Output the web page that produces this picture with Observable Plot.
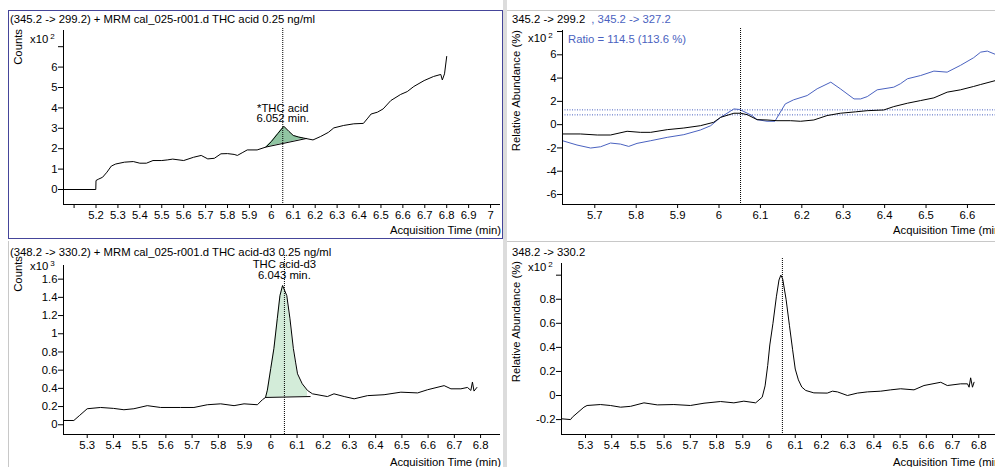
<!DOCTYPE html>
<html><head><meta charset="utf-8">
<script src="https://cdn.jsdelivr.net/npm/d3@7"></script>
<script src="https://cdn.jsdelivr.net/npm/@observablehq/plot@0.6"></script>
<style>
html,body{margin:0;padding:0;background:#fff;}
body{width:995px;height:467px;position:relative;overflow:hidden;font-family:"Liberation Sans",Arial,sans-serif;font-size:11.3px;color:#000;}
.abs{position:absolute;white-space:nowrap;line-height:12px;}
.rot{position:absolute;white-space:nowrap;line-height:12px;transform-origin:0 0;transform:rotate(-90deg) translateX(-100%);}
.ra{transform:translateX(-100%);}
.sup{font-size:8px;position:relative;top:-4px;margin-left:2px;}
.box{position:absolute;box-sizing:border-box;}
.pl{position:absolute;}
</style></head><body>
<script>
// ---------------- data ----------------
// Top-left: (345.2 -> 299.2) quantifier, counts x10^2
const tlTime = [5.052,5.199,5.2,5.21,5.23,5.25,5.27,5.29,5.33,5.37,5.40,5.43,5.46,5.50,5.525,5.55,5.60,5.645,5.68,5.71,5.74,5.77,5.80,5.83,5.845,5.87,5.89,5.935,5.975,6.0,6.03,6.057,6.08,6.10,6.125,6.148,6.19,6.225,6.26,6.285,6.33,6.376,6.42,6.44,6.455,6.484,6.51,6.545,6.59,6.62,6.65,6.697,6.74,6.773,6.78,6.79,6.80];
const tlCounts = [0,0,0.44,0.5,0.6,0.85,1.15,1.25,1.34,1.37,1.29,1.29,1.42,1.42,1.45,1.49,1.42,1.58,1.67,1.5,1.53,1.75,1.76,1.72,1.67,1.82,1.94,1.94,2.08,2.35,2.75,3.1,2.85,2.65,2.57,2.52,2.43,2.6,2.8,3.02,3.14,3.22,3.24,3.5,3.7,3.79,3.95,4.36,4.66,4.8,5.05,5.34,5.54,5.64,5.37,5.67,6.52];
const tlBaseT = [5.975, 6.16];
const tlBaseV = [2.08, 2.5];
const tlRT = 6.052;
const tlLabel = "*THC acid\n6.052 min.";

// Top-right: qualifier ratio overlay, relative abundance x10^2
const trTime = [5.622,5.665,5.706,5.738,5.778,5.81,5.835,5.875,5.915,5.955,5.987,6.004,6.036,6.052,6.068,6.092,6.116,6.14,6.173,6.197,6.229,6.261,6.293,6.33,6.358,6.398,6.422,6.455,6.487,6.519,6.551,6.583,6.615,6.632,6.668];
const trQuant = [-0.8,-0.8,-0.89,-0.89,-0.57,-0.66,-0.66,-0.43,-0.29,-0.09,0.2,0.63,0.98,0.98,0.86,0.43,0.4,0.34,0.34,0.29,0.4,0.78,0.98,1.1,1.2,1.26,1.55,1.84,2.07,2.3,2.79,2.99,3.28,3.45,3.79];
const trQualTime = [5.622,5.657,5.69,5.714,5.738,5.762,5.782,5.802,5.835,5.875,5.915,5.955,5.98,6.004,6.036,6.05,6.08,6.092,6.116,6.135,6.16,6.18,6.213,6.237,6.27,6.293,6.326,6.342,6.358,6.382,6.422,6.438,6.455,6.487,6.519,6.551,6.583,6.615,6.632,6.648,6.668];
const trQual = [-1.38,-1.75,-2.01,-1.9,-1.58,-1.67,-1.87,-1.61,-1.38,-1.09,-0.86,-0.46,-0.09,0.63,1.35,1.3,0.78,0.43,0.29,0.29,1.78,2.13,2.5,3.08,3.65,3.08,2.21,2.21,2.41,2.99,3.22,3.51,3.94,4.22,4.6,4.51,5.09,5.75,6.23,6.32,6.03];
const trLimits = [1.27, 0.84];
const trRT = 6.052;

// Bottom-left: (348.2 -> 330.2) internal standard, counts x10^3
const blTime = [5.21,5.249,5.27,5.30,5.351,5.40,5.44,5.478,5.529,5.58,5.656,5.707,5.758,5.809,5.86,5.898,5.949,5.968,5.98,5.987,6.0,6.012,6.025,6.035,6.045,6.061,6.073,6.086,6.095,6.102,6.12,6.14,6.159,6.216,6.241,6.28,6.318,6.369,6.432,6.496,6.56,6.598,6.661,6.687,6.725,6.75,6.763,6.769,6.775,6.786];
const blCounts = [0.047,0.047,0.1,0.176,0.19,0.18,0.165,0.176,0.21,0.19,0.19,0.19,0.22,0.23,0.21,0.23,0.22,0.275,0.30,0.38,0.62,0.84,1.17,1.42,1.53,1.42,1.17,0.84,0.68,0.56,0.45,0.377,0.34,0.31,0.34,0.31,0.285,0.32,0.33,0.358,0.35,0.385,0.43,0.395,0.395,0.41,0.377,0.47,0.37,0.41];
const blBaseT = [5.98, 6.15];
const blBaseV = [0.30, 0.31];
const blRT = 6.052;
const blLabel = "THC acid-d3\n6.043 min.";

// Bottom-right: 348.2 -> 330.2, relative abundance x10^2
const brTime = [5.211,5.243,5.25,5.294,5.306,5.357,5.395,5.434,5.472,5.523,5.574,5.637,5.70,5.752,5.815,5.866,5.904,5.949,5.974,5.985,5.995,6.003,6.015,6.028,6.038,6.045,6.052,6.065,6.078,6.09,6.1,6.112,6.125,6.14,6.171,6.222,6.242,6.261,6.299,6.337,6.375,6.426,6.464,6.502,6.553,6.591,6.655,6.68,6.731,6.757,6.763,6.769,6.776,6.782];
const brAbund = [-0.194,-0.2,-0.18,-0.097,-0.083,-0.075,-0.083,-0.097,-0.09,-0.061,-0.078,-0.075,-0.083,-0.064,-0.05,-0.061,-0.047,-0.061,-0.014,0.08,0.25,0.42,0.6,0.82,0.96,1.0,0.97,0.8,0.58,0.38,0.22,0.13,0.07,0.042,0.022,0.02,0.036,0.03,0,0.02,0.03,0.036,0.047,0.056,0.047,0.083,0.11,0.083,0.097,0.097,0.069,0.147,0.069,0.11];
const brRT = 6.051;

// ticks
const tlXTicks = d3.range(51, 71).map(d => d / 10);
const tlYTicks = [0,1,2,3,4,5,6,7];
const trXTicks = d3.range(57, 67).map(d => d / 10);
const trYTicks = [-6,-4,-2,0,2,4,6,8];
const blXTicks = d3.range(53, 69).map(d => d / 10);
const blYTicks = [0,0.2,0.4,0.6,0.8,1,1.2,1.4,1.6];
const brXTicks = d3.range(53, 69).map(d => d / 10);
const brYTicks = [-0.2,0,0.2,0.4,0.6,0.8,1.0];

// ---------------- helpers ----------------
const FONT = '"Liberation Sans", Arial, sans-serif';
const BLUE = "#4a62c0";
const num = d => String(+(+d).toFixed(1));
const zip = (t, v) => t.map((x, i) => ({t: x, v: v[i]}));
function peakArea(t, v, bt, bv) {
  const pts = zip(t, v).filter(d => d.t >= bt[0] && d.t <= bt[1]);
  const base = x => bv[0] + (bv[1] - bv[0]) * (x - bt[0]) / (bt[1] - bt[0]);
  return pts.map(d => ({t: d.t, v: d.v, b: base(d.t)}));
}
function addSvg(svg, left, top) {
  svg.classList.add("pl");
  svg.style.left = left + "px";
  svg.style.top = top + "px";
  document.body.appendChild(svg);
}
function txt(html, x, baseline, cls = "", color = "#000") {
  const d = document.createElement("div");
  d.className = "abs " + cls;
  d.innerHTML = html;
  d.style.left = x + "px";
  d.style.top = (baseline - 9.9) + "px";
  d.style.color = color;
  document.body.appendChild(d);
}
function rot(html, baselineX, endY) {
  const d = document.createElement("div");
  d.className = "rot";
  d.innerHTML = html;
  d.style.left = (baselineX - 9.9) + "px";
  d.style.top = endY + "px";
  document.body.appendChild(d);
}
function box(l, t, w, h, css) {
  const d = document.createElement("div");
  d.className = "box";
  Object.assign(d.style, {left: l + "px", top: t + "px", width: w + "px", height: h + "px"}, css);
  document.body.appendChild(d);
}
function base(opts) {
  const {width, height, mL, mR, mT, mB, xDomain, yDomain, xTicks, yTicks, xFmt, yFmt, marks} = opts;
  return Plot.plot({
    width, height, marginLeft: mL, marginRight: mR, marginTop: mT, marginBottom: mB,
    style: {fontFamily: FONT, fontSize: "11.3px", color: "#000", background: "transparent", overflow: "visible"},
    x: {type: "linear", domain: xDomain},
    y: {type: "linear", domain: yDomain},
    marks: [
      ...marks,
      Plot.ruleX([xDomain[0]], {stroke: "#000", strokeWidth: 1}),
      Plot.ruleY([yDomain[0]], {stroke: "#000", strokeWidth: 1}),
      Plot.axisX({ticks: xTicks, tickFormat: xFmt, tickSize: 4, tickPadding: 2, label: null}),
      Plot.axisY({ticks: yTicks, tickFormat: yFmt, tickSize: 5, tickPadding: 1, label: null})
    ]
  });
}

// ---------------- frames ----------------
box(503, 0, 4, 467, {background: "#dcdcdc"});
box(507, 10, 488, 1, {background: "#c8c8c8"});
box(507, 241, 488, 1, {background: "#c8c8c8"});
box(8, 241, 1, 226, {background: "#c8c8c8"});
box(8, 10, 495, 229, {border: "1px solid #45459a"});

// ---------------- top-left ----------------
{
  const line = zip(tlTime, tlCounts);
  const area = peakArea(tlTime, tlCounts, tlBaseT, tlBaseV);
  const apex = d3.max(tlCounts.filter((v, i) => tlTime[i] > 6 && tlTime[i] < 6.1));
  addSvg(base({
    width: 502, height: 238, mL: 63, mR: 2, mT: 30, mB: 34,
    xDomain: [5.0517, 7.0454], yDomain: [-0.735, 7.794],
    xTicks: tlXTicks, yTicks: tlYTicks,
    xFmt: d => Math.abs(d - 5.1) < 1e-9 ? "" : num(d),
    yFmt: d => d === 7 ? "" : num(d),
    marks: [
      Plot.areaY(area, {x: "t", y1: "b", y2: "v", fill: "#90c5a2"}),
      Plot.line(zip(tlBaseT, tlBaseV), {x: "t", y: "v", stroke: "#000", strokeWidth: 1}),
      Plot.line(line, {x: "t", y: "v", stroke: "#000", strokeWidth: 1}),
      Plot.ruleX([tlRT], {stroke: "#000", strokeDasharray: "1,1", insetTop: -2}),
      Plot.text([{t: tlRT, v: apex, s: tlLabel}], {x: "t", y: "v", text: "s", lineAnchor: "bottom", lineHeight: 0.95, dy: -4, fontSize: 11.3, fill: "#000"})
    ]
  }), 0, 0);
  txt("(345.2 -&gt; 299.2) + MRM cal_025-r001.d THC acid 0.25 ng/ml", 10, 23);
  rot("Counts", 22, 29);
  txt('x10<span class="sup">2</span>', 30, 43);
  txt("Acquisition Time (min)", 501, 234, "ra");
}

// ---------------- top-right ----------------
{
  addSvg(base({
    width: 510, height: 238, mL: 62, mR: 0, mT: 30, mB: 34,
    xDomain: [5.622, 6.704], yDomain: [-6.86, 8.088],
    xTicks: trXTicks, yTicks: trYTicks,
    xFmt: num,
    yFmt: d => d === 8 ? "" : num(d),
    marks: [
      Plot.ruleY(trLimits, {stroke: BLUE, strokeDasharray: "1,1.5"}),
      Plot.line(zip(trQualTime, trQual), {x: "t", y: "v", stroke: BLUE, strokeWidth: 1}),
      Plot.line(zip(trTime, trQuant), {x: "t", y: "v", stroke: "#000", strokeWidth: 1}),
      Plot.ruleX([trRT], {stroke: "#000", strokeDasharray: "1,1", insetTop: -2})
    ]
  }), 500, 0);
  txt('345.2 -&gt; 299.2 <span style="color:' + BLUE + ';margin-left:3px">, 345.2 -&gt; 327.2</span>', 512, 23);
  txt("Ratio = 114.5 (113.6 %)", 568, 43, "", BLUE);
  rot("Relative Abundance (%)", 520, 30);
  txt('x10<span class="sup">2</span>', 528, 42);
  txt("Acquisition Time (min)", 893, 234);
}

// ---------------- bottom-left ----------------
{
  const line = zip(blTime, blCounts);
  const area = peakArea(blTime, blCounts, blBaseT, blBaseV);
  const apex = d3.max(blCounts);
  addSvg(base({
    width: 502, height: 229, mL: 63, mR: 2, mT: 27, mB: 33,
    xDomain: [5.2096, 6.876], yDomain: [-0.107, 1.75],
    xTicks: blXTicks, yTicks: blYTicks,
    xFmt: num, yFmt: num,
    marks: [
      Plot.areaY(area, {x: "t", y1: "b", y2: "v", fill: "#d3ecd9"}),
      Plot.line(zip(blBaseT, blBaseV), {x: "t", y: "v", stroke: "#000", strokeWidth: 1}),
      Plot.line(line, {x: "t", y: "v", stroke: "#000", strokeWidth: 1}),
      Plot.ruleX([blRT], {stroke: "#000", strokeDasharray: "1,1", insetTop: -10}),
      Plot.text([{t: blRT, v: apex, s: blLabel}], {x: "t", y: "v", text: "s", lineAnchor: "bottom", lineHeight: 0.95, dy: -7, fontSize: 11.3, fill: "#000"})
    ]
  }), 0, 238);
  txt("(348.2 -&gt; 330.2) + MRM cal_025-r001.d THC acid-d3 0.25 ng/ml", 10, 256);
  rot("Counts", 22, 256);
  txt('x10<span class="sup">3</span>', 30, 270);
  txt("Acquisition Time (min)", 501, 466, "ra");
}

// ---------------- bottom-right ----------------
{
  addSvg(base({
    width: 510, height: 229, mL: 61, mR: 0, mT: 25, mB: 33,
    xDomain: [5.2085, 6.921], yDomain: [-0.324, 1.097],
    xTicks: brXTicks, yTicks: brYTicks,
    xFmt: num, yFmt: d => d === 1 ? "" : num(d),
    marks: [
      Plot.line(zip(brTime, brAbund), {x: "t", y: "v", stroke: "#000", strokeWidth: 1}),
      Plot.ruleX([brRT], {stroke: "#000", strokeDasharray: "1,1", insetTop: -5})
    ]
  }), 500, 238);
  txt("348.2 -&gt; 330.2", 512, 256);
  rot("Relative Abundance (%)", 520, 261);
  txt('x10<span class="sup">2</span>', 528, 271);
  txt("Acquisition Time (min)", 893, 466);
}
</script>
</body></html>
